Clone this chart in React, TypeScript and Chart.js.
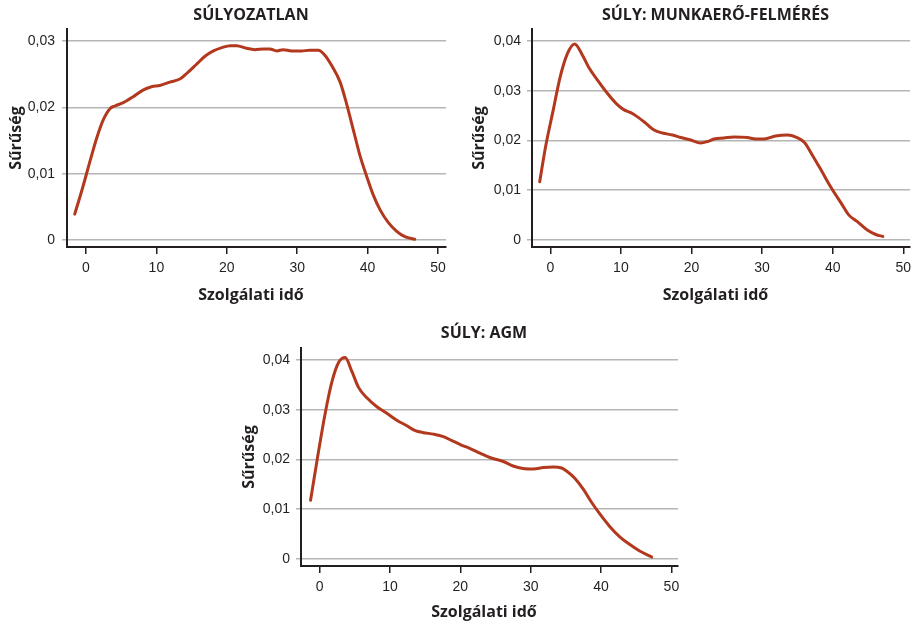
import React, { useEffect, useRef } from "react";
import { Chart, registerables } from "chart.js";

Chart.register(...registerables);

// ---------- Data ----------
const xTicks = [0, 10, 20, 30, 40, 50];
const yTicksUnweighted = [0, 0.01, 0.02, 0.03];
const yTicksWeighted = [0, 0.01, 0.02, 0.03, 0.04];

const titleUnweighted = "SÚLYOZATLAN";
const titleLfs = "SÚLY: MUNKAERŐ-FELMÉRÉS";
const titleAgm = "SÚLY: AGM";
const xAxisLabel = "Szolgálati idő";
const yAxisLabel = "Sűrűség";

const unweightedX = [-1.6, -0.5, 0.6, 1.5, 2.4, 3.4, 4.1, 5.3, 6.7, 8.1, 9.3, 10.5, 11.9, 13.4, 14.3, 15.7, 16.9, 18.1, 19.3, 20.5, 21.4, 22.8, 24.0, 25.2, 26.1, 27.1, 28.0, 29.2, 30.6, 31.8, 33.0, 33.9, 34.9, 36.1, 37.0, 38.0, 38.9, 39.9, 40.8, 41.8, 42.9, 44.1, 45.3, 46.7];
const unweightedY = [0.0039, 0.0078, 0.012, 0.0153, 0.018, 0.0198, 0.0202, 0.0207, 0.0216, 0.0226, 0.0231, 0.0233, 0.0238, 0.0243, 0.0251, 0.0265, 0.0277, 0.0285, 0.029, 0.0293, 0.0293, 0.0289, 0.0287, 0.0288, 0.0288, 0.0285, 0.0287, 0.0285, 0.0285, 0.0286, 0.0286, 0.0279, 0.0263, 0.0238, 0.0206, 0.0165, 0.0128, 0.0095, 0.0068, 0.0045, 0.0027, 0.00135, 0.0005, 0.0001];

const lfsX = [-1.5, -0.66, 0.43, 1.37, 2.41, 3.45, 4.54, 5.48, 6.66, 8.08, 9.5, 10.4, 11.4, 12.3, 13.5, 14.7, 15.9, 17.3, 18.5, 19.9, 21.3, 22.3, 23.2, 24.6, 26.0, 27.9, 29.1, 30.3, 31.9, 33.6, 34.8, 36.0, 37.1, 38.3, 39.7, 41.2, 42.3, 43.5, 44.9, 46.1, 47.1];
const lfsY = [0.0117, 0.0188, 0.0262, 0.0326, 0.0374, 0.0394, 0.0372, 0.0346, 0.0322, 0.0295, 0.0272, 0.0262, 0.0256, 0.0248, 0.0235, 0.0221, 0.0215, 0.0211, 0.0206, 0.0201, 0.0195, 0.0198, 0.0203, 0.0205, 0.0207, 0.0206, 0.0203, 0.0203, 0.0209, 0.0211, 0.0207, 0.0196, 0.0171, 0.0142, 0.0107, 0.0074, 0.005, 0.0037, 0.002, 0.0011, 0.0007];

const agmX = [-1.28, -0.28, 0.8, 1.75, 2.7, 3.64, 4.59, 5.53, 6.72, 8.14, 9.56, 10.97, 12.4, 13.6, 14.76, 16.2, 17.6, 18.8, 20.0, 21.4, 22.8, 24.2, 26.1, 27.5, 28.9, 30.4, 31.8, 33.2, 34.4, 35.1, 36.3, 37.5, 38.6, 39.8, 41.2, 42.7, 44.1, 45.5, 47.2];
const agmY = [0.0118, 0.0205, 0.0293, 0.0356, 0.0395, 0.0405, 0.0377, 0.0345, 0.0324, 0.0306, 0.0293, 0.0279, 0.0268, 0.0258, 0.0254, 0.0251, 0.0246, 0.0238, 0.023, 0.0222, 0.0213, 0.0204, 0.0196, 0.0187, 0.0182, 0.0181, 0.0184, 0.0185, 0.0183, 0.0177, 0.0162, 0.014, 0.0115, 0.0091, 0.0066, 0.0044, 0.0029, 0.0016, 0.0004];

// ---------- Styles ----------
const LINE_COLOR = "#b2381e";
const GRID_COLOR = "#b5b5b5";
const AXIS_COLOR = "#231f20";
const TEXT_COLOR = "#231f20";
const BOLD_FONT = '"Open Sans", "Noto Sans", sans-serif';
const TICK_FONT = '"Liberation Sans Narrow", "Liberation Sans", Arial, sans-serif';
const TICK_SIZE = 14;

type Spec = {
  title: string;
  xs: number[];
  ys: number[];
  yTicks: number[];
  box: { left: number; top: number; width: number; height: number };
  xRange: [number, number];
  yRange: [number, number];
  yAxisWidth: number;
  xAxisHeight: number;
  padRight: number;
  padTop: number;
  titleY: number;
  xLabelY: number;
  yTitlePad: number;
  yTickPad: number;
};

const specs: Spec[] = [
  {
    title: titleUnweighted,
    xs: unweightedX,
    ys: unweightedY,
    yTicks: yTicksUnweighted,
    box: { left: 0, top: 0, width: 457, height: 305 },
    xRange: [-2.7, 51.14],
    yRange: [-0.00106, 0.03181],
    yAxisWidth: 67,
    xAxisHeight: 58,
    padRight: 11,
    padTop: 29,
    titleY: 15.5,
    xLabelY: 295.5,
    yTitlePad: 7,
    yTickPad: 7,
  },
  {
    title: titleLfs,
    xs: lfsX,
    ys: lfsY,
    yTicks: yTicksWeighted,
    box: { left: 457, top: 0, width: 457, height: 305 },
    xRange: [-2.59, 50.95],
    yRange: [-0.00141, 0.04241],
    yAxisWidth: 75,
    xAxisHeight: 58,
    padRight: 4,
    padTop: 29,
    titleY: 15.5,
    xLabelY: 295.5,
    yTitlePad: 13,
    yTickPad: 6,
  },
  {
    title: titleAgm,
    xs: agmX,
    ys: agmY,
    yTicks: yTicksWeighted,
    box: { left: 225, top: 305, width: 465, height: 321 },
    xRange: [-2.64, 50.94],
    yRange: [-0.00141, 0.04242],
    yAxisWidth: 76,
    xAxisHeight: 60,
    padRight: 12,
    padTop: 43,
    titleY: 28.5,
    xLabelY: 307.5,
    yTitlePad: 15,
    yTickPad: 6,
  },
];

function formatY(v: number): string {
  if (v === 0) return "0";
  return v.toFixed(2).replace(".", ",");
}

// chart title and x-axis title, centred slightly left of the plot centre as in the original
const headingPlugin = {
  id: "headings",
  afterDraw(chart: any, _args: any, opts: any) {
    const { ctx, chartArea } = chart;
    const cx = (chartArea.left + chartArea.right) / 2 - 5.5;
    ctx.save();
    ctx.fillStyle = TEXT_COLOR;
    ctx.font = `bold 16px ${BOLD_FONT}`;
    ctx.textAlign = "center";
    ctx.textBaseline = "middle";
    ctx.fillText(opts.title, cx, opts.titleY);
    ctx.fillText(opts.xLabel, cx, opts.xLabelY);
    ctx.restore();
  },
};

function DensityChart({ spec }: { spec: Spec }) {
  const ref = useRef<HTMLCanvasElement | null>(null);

  useEffect(() => {
    if (!ref.current) return;
    const points = spec.xs.map((x, i) => ({ x, y: spec.ys[i] }));
    const tickFontOpts = { family: TICK_FONT, weight: "normal", size: TICK_SIZE, lineHeight: 1.2 };
    const chart = new Chart(ref.current, {
      type: "line",
      data: {
        datasets: [
          {
            data: points,
            borderColor: LINE_COLOR,
            borderWidth: 3,
            pointRadius: 0,
            fill: false,
            cubicInterpolationMode: "monotone",
            borderCapStyle: "round",
            borderJoinStyle: "round",
          },
        ],
      },
      plugins: [headingPlugin],
      options: {
        animation: false,
        responsive: false,
        events: [],
        layout: { padding: { left: 0, right: spec.padRight, top: spec.padTop, bottom: 0 } },
        plugins: {
          legend: { display: false },
          tooltip: { enabled: false },
          title: { display: false },
          headings: { title: spec.title, xLabel: xAxisLabel, titleY: spec.titleY, xLabelY: spec.xLabelY },
        },
        scales: {
          x: {
            type: "linear",
            min: spec.xRange[0],
            max: spec.xRange[1],
            afterBuildTicks: (scale: any) => {
              scale.ticks = xTicks.map((v) => ({ value: v }));
            },
            afterFit: (scale: any) => {
              scale.height = spec.xAxisHeight;
              scale.paddingLeft = 0;
              scale.paddingRight = 0;
              scale.paddingTop = 0;
              scale.paddingBottom = 0;
            },
            grid: {
              display: true,
              drawOnChartArea: false,
              drawTicks: true,
              tickLength: 7,
              color: AXIS_COLOR,
              lineWidth: 1.5,
            },
            border: { display: true, color: AXIS_COLOR, width: 2 },
            ticks: {
              color: TEXT_COLOR,
              padding: 6,
              maxRotation: 0,
              autoSkip: false,
              font: tickFontOpts,
              callback: (v: any) => String(v),
            },
            title: { display: false },
          },
          y: {
            type: "linear",
            min: spec.yRange[0],
            max: spec.yRange[1],
            afterBuildTicks: (scale: any) => {
              scale.ticks = spec.yTicks.map((v) => ({ value: v }));
            },
            afterFit: (scale: any) => {
              scale.width = spec.yAxisWidth;
              scale.paddingLeft = 0;
              scale.paddingRight = 0;
              scale.paddingTop = 0;
              scale.paddingBottom = 0;
            },
            grid: {
              display: true,
              drawOnChartArea: true,
              drawTicks: true,
              tickLength: 5,
              color: GRID_COLOR,
              lineWidth: 1.5,
            },
            border: { display: true, color: AXIS_COLOR, width: 2 },
            ticks: {
              color: TEXT_COLOR,
              padding: spec.yTickPad,
              autoSkip: false,
              font: tickFontOpts,
              callback: (v: any) => formatY(Number(v)),
            },
            title: {
              display: true,
              text: yAxisLabel,
              color: TEXT_COLOR,
              font: { family: BOLD_FONT, size: 16, weight: "bold", lineHeight: 1.2 },
              padding: { top: spec.yTitlePad, bottom: 0 },
            },
          },
        },
      } as any,
    });
    return () => chart.destroy();
  }, [spec]);

  const { left, top, width, height } = spec.box;
  return (
    <canvas
      ref={ref}
      width={width}
      height={height}
      style={{ position: "absolute", left, top, width, height, display: "block" }}
    />
  );
}

export default function App() {
  return (
    <div
      style={{
        position: "absolute",
        left: 0,
        top: 0,
        width: 914,
        height: 626,
        background: "#ffffff",
        overflow: "hidden",
      }}
    >
      {specs.map((s) => (
        <DensityChart key={s.title} spec={s} />
      ))}
    </div>
  );
}
